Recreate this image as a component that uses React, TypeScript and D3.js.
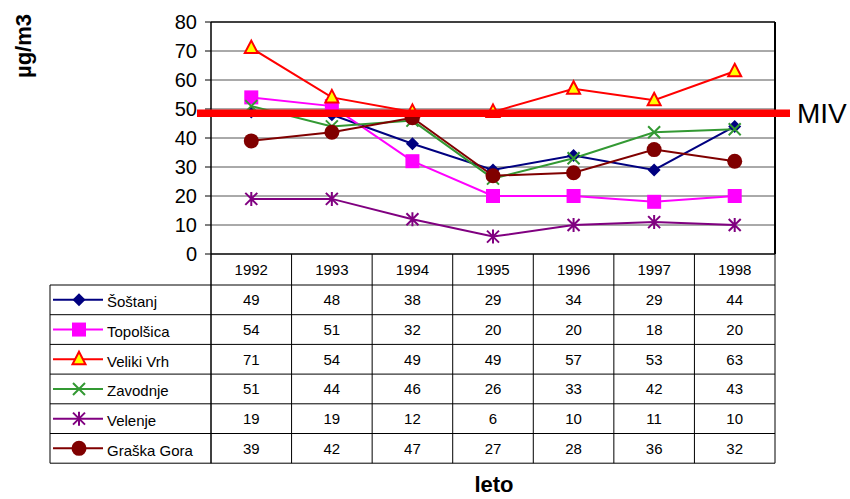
import React from "react";
import * as d3 from "d3";

const years = ["1992", "1993", "1994", "1995", "1996", "1997", "1998"];
const seriesNames = ["Šoštanj", "Topolšica", "Veliki Vrh", "Zavodnje", "Velenje", "Graška Gora"];
const sostanj = [49, 48, 38, 29, 34, 29, 44];
const topolsica = [54, 51, 32, 20, 20, 18, 20];
const velikiVrh = [71, 54, 49, 49, 57, 53, 63];
const zavodnje = [51, 44, 46, 26, 33, 42, 43];
const velenje = [19, 19, 12, 6, 10, 11, 10];
const graskaGora = [39, 42, 47, 27, 28, 36, 32];
const yTicks = [0, 10, 20, 30, 40, 50, 60, 70, 80];
const MIV = 48.5;

const seriesValues = [sostanj, topolsica, velikiVrh, zavodnje, velenje, graskaGora];
const colors = ["#000080", "#FF00FF", "#FF0000", "#339933", "#800080", "#800000"];
const markerTypes = ["diamond", "square", "triangle", "x", "star", "circle"];

const W = 850, H = 499;
const plotLeft = 211, plotRight = 775, plotTop = 22, plotBottom = 254;
const tableLeft = 50;
const headerBottom = 285;
const rowH = 29.7;

function Marker({ type, x, y, color }: { type: string; x: number; y: number; color: string }) {
  switch (type) {
    case "diamond":
      return <path d={`M${x},${y - 6.5}L${x + 6.5},${y}L${x},${y + 6.5}L${x - 6.5},${y}Z`} fill={color} />;
    case "square":
      return <rect x={x - 7} y={y - 7} width={14} height={14} fill={color} />;
    case "triangle":
      return (
        <path
          d={`M${x},${y - 7.5}L${x + 6.5},${y + 5}L${x - 6.5},${y + 5}Z`}
          fill="#FFFF00"
          stroke={color}
          strokeWidth={2}
          strokeLinejoin="miter"
        />
      );
    case "x":
      return (
        <path d={`M${x - 6},${y - 6}L${x + 6},${y + 6}M${x - 6},${y + 6}L${x + 6},${y - 6}`} stroke={color} strokeWidth={2} />
      );
    case "star":
      return (
        <path
          d={`M${x - 6},${y - 6}L${x + 6},${y + 6}M${x - 6},${y + 6}L${x + 6},${y - 6}M${x},${y - 7}L${x},${y + 7}`}
          stroke={color}
          strokeWidth={2}
        />
      );
    case "circle":
      return <circle cx={x} cy={y} r={7.5} fill={color} />;
    default:
      return null;
  }
}

export default function App() {
  const x = d3.scaleBand<string>().domain(years).range([plotLeft, plotRight]).padding(0);
  const y = d3.scaleLinear().domain([0, 80]).range([plotBottom, plotTop]);
  const cx = (yr: string) => (x(yr) as number) + x.bandwidth() / 2;
  const line = d3
    .line<number>()
    .x((_, i) => cx(years[i]))
    .y((d) => y(d));

  const font = "Arial, 'Liberation Sans', sans-serif";
  const rowTop = (i: number) => headerBottom + i * rowH;
  const tableBottom = rowTop(seriesNames.length);

  return (
    <svg
      width={W}
      height={H}
      style={{ position: "absolute", left: 0, top: 0, background: "#fff" }}
      fontFamily={font}
    >
      {/* gridlines */}
      {yTicks.filter((t) => t > 0 && t < 80).map((t) => (
        <line key={t} x1={plotLeft} x2={plotRight} y1={y(t)} y2={y(t)} stroke="#555" strokeWidth={1} />
      ))}
      {/* frame */}
      <line x1={plotLeft} x2={plotRight} y1={plotTop} y2={plotTop} stroke="#000" strokeWidth={1.5} />
      <line x1={plotRight} x2={plotRight} y1={plotTop} y2={plotBottom} stroke="#000" strokeWidth={2} />
      {/* y axis */}
      <line x1={plotLeft} x2={plotLeft} y1={plotTop} y2={tableBottom} stroke="#000" strokeWidth={1.5} />
      {yTicks.map((t) => (
        <g key={t}>
          <line x1={plotLeft - 6} x2={plotLeft} y1={y(t)} y2={y(t)} stroke="#000" strokeWidth={1} />
          <text x={197} y={y(t)} dy="0.36em" textAnchor="end" fontSize={20}>
            {t}
          </text>
        </g>
      ))}
      <text
        transform={`translate(31,46) rotate(-90)`}
        textAnchor="middle"
        fontSize={22}
        fontWeight="bold"
      >
        µg/m3
      </text>

      {/* series lines */}
      {seriesValues.map((vals, si) => (
        <path key={si} d={line(vals) || ""} fill="none" stroke={colors[si]} strokeWidth={2} />
      ))}
      {seriesValues.map((vals, si) => (
        <g key={si}>
          {vals.map((v, i) => (
            <Marker key={i} type={markerTypes[si]} x={cx(years[i])} y={y(v)} color={colors[si]} />
          ))}
        </g>
      ))}

      {/* MIV line */}
      <line x1={197} x2={790} y1={y(MIV)} y2={y(MIV)} stroke="#FF0000" strokeWidth={7.5} />
      <text x={797} y={y(MIV)} dy="0.36em" fontSize={28}>
        MIV
      </text>

      {/* table */}
      <line x1={plotLeft} x2={plotRight} y1={plotBottom} y2={plotBottom} stroke="#000" strokeWidth={1.5} />
      {years.map((yr) => (
        <g key={yr}>
          <line
            x1={(x(yr) as number) + x.bandwidth()}
            x2={(x(yr) as number) + x.bandwidth()}
            y1={plotBottom}
            y2={tableBottom}
            stroke="#000"
            strokeWidth={1}
          />
          <text x={cx(yr)} y={(plotBottom + headerBottom) / 2} dy="0.36em" textAnchor="middle" fontSize={15}>
            {yr}
          </text>
        </g>
      ))}
      <line x1={tableLeft} x2={tableLeft} y1={headerBottom} y2={tableBottom} stroke="#000" strokeWidth={1} />
      {seriesNames.map((name, si) => {
        const top = rowTop(si);
        const mid = top + rowH / 2;
        return (
          <g key={name}>
            <line x1={tableLeft} x2={plotRight} y1={top} y2={top} stroke="#000" strokeWidth={1} />
            <line x1={53} x2={103} y1={mid} y2={mid} stroke={colors[si]} strokeWidth={2} />
            <Marker type={markerTypes[si]} x={79} y={mid} color={colors[si]} />
            <text x={107} y={mid + 2} dy="0.36em" fontSize={15}>
              {name}
            </text>
            {seriesValues[si].map((v, i) => (
              <text key={i} x={cx(years[i])} y={mid} dy="0.36em" textAnchor="middle" fontSize={15}>
                {v}
              </text>
            ))}
          </g>
        );
      })}
      <line x1={tableLeft} x2={plotRight} y1={tableBottom} y2={tableBottom} stroke="#000" strokeWidth={1} />

      <text x={494} y={492} textAnchor="middle" fontSize={22} fontWeight="bold">
        leto
      </text>
    </svg>
  );
}
